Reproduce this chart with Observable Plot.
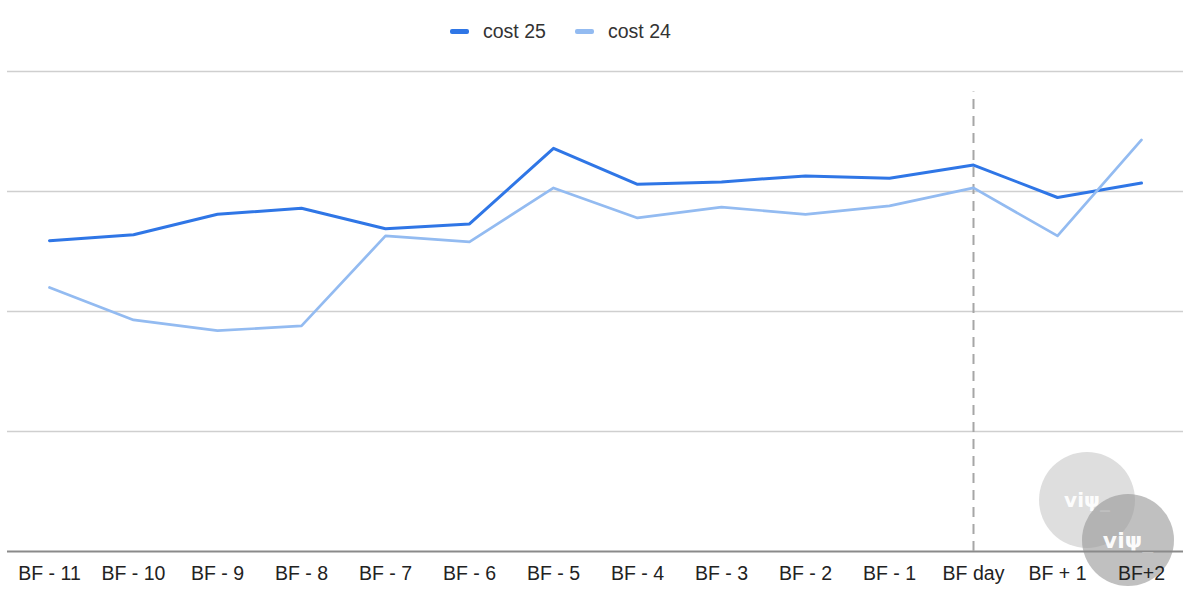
<!DOCTYPE html>
<html>
<head>
<meta charset="utf-8">
<script src="https://cdn.jsdelivr.net/npm/d3@7"></script>
<script src="https://cdn.jsdelivr.net/npm/@observablehq/plot@0.6"></script>
<style>
  html, body { margin: 0; padding: 0; background: #fff; }
  body { width: 1200px; height: 612px; position: relative; overflow: hidden; font-family: "Liberation Sans", Arial, sans-serif; }
  #legend { height: 60px; position: relative; }
  #chart { position: relative; z-index: 2; }
  .lg { position: absolute; top: 20px; display: flex; align-items: center; font-size: 19.5px; color: #333; }
  .sw { width: 19px; height: 5px; border-radius: 2px; margin-right: 14px; }
  .wm { position: absolute; z-index: 1; border-radius: 50%; display: flex; align-items: center; justify-content: center; color: rgba(255,255,255,0.95); font-weight: bold; font-family: "DejaVu Sans", sans-serif; }
</style>
</head>
<body>
<div id="legend"></div>
<div id="chart"></div>
<script>
const categories = ["BF - 11","BF - 10","BF - 9","BF - 8","BF - 7","BF - 6","BF - 5","BF - 4","BF - 3","BF - 2","BF - 1","BF day","BF + 1","BF+2"];
const cost25 = [2.59, 2.64, 2.81, 2.86, 2.69, 2.73, 3.36, 3.06, 3.08, 3.13, 3.11, 3.22, 2.95, 3.07];
const cost24 = [2.20, 1.93, 1.84, 1.88, 2.63, 2.58, 3.03, 2.78, 2.87, 2.81, 2.88, 3.03, 2.63, 3.43];
const seriesNames = ["cost 25", "cost 24"];
const seriesColors = ["#2f76e6", "#93bbf1"];
const gridValues = [1, 2, 3, 4];
const markerCategory = "BF day";
const markerTop = 3.83;

const rows = [];
categories.forEach((c, i) => {
  rows.push({cat: c, series: seriesNames[0], value: cost25[i]});
  rows.push({cat: c, series: seriesNames[1], value: cost24[i]});
});

// legend
const legend = document.getElementById("legend");
const legendX = [450, 575];
seriesNames.forEach((s, i) => {
  const d = document.createElement("div");
  d.className = "lg";
  d.style.left = legendX[i] + "px";
  d.innerHTML = `<div class="sw" style="background:${seriesColors[i]}"></div><span>${s}</span>`;
  legend.appendChild(d);
});

const chart = Plot.plot({
  width: 1200,
  height: 552,
  marginTop: 11,
  marginBottom: 61,
  marginLeft: 7,
  marginRight: 17,
  style: {fontFamily: "'Liberation Sans', Arial, sans-serif", fontSize: "19.5px", color: "#222", background: "transparent"},
  x: {type: "point", domain: categories, padding: 0.5, label: null},
  y: {domain: [0, 4], axis: null},
  color: {domain: seriesNames, range: seriesColors},
  marks: [
    Plot.gridY(gridValues, {stroke: "#cfcfcf", strokeOpacity: 1, strokeWidth: 1.5}),
    Plot.ruleY([0], {stroke: "#8a8a8a", strokeWidth: 2}),
    Plot.ruleX([markerCategory], {y1: 0, y2: markerTop, stroke: "#a6a6a6", strokeWidth: 2, strokeDasharray: "10,7"}),
    Plot.line(rows.filter(d => d.series === seriesNames[0]), {x: "cat", y: "value", stroke: seriesColors[0], strokeWidth: 3}),
    Plot.line(rows.filter(d => d.series === seriesNames[1]), {x: "cat", y: "value", stroke: seriesColors[1], strokeWidth: 2.7}),
    Plot.axisX({tickSize: 0, tickPadding: 15, fill: "#222", fontSize: 19.5, label: null})
  ]
});
document.getElementById("chart").appendChild(chart);

// watermark
const wm = [
  {cx: 1087, cy: 500, r: 48, bg: "rgba(205,205,205,0.65)", fs: 20},
  {cx: 1128, cy: 540, r: 46, bg: "rgba(150,150,150,0.6)", fs: 22}
];
wm.forEach(w => {
  const d = document.createElement("div");
  d.className = "wm";
  d.style.left = (w.cx - w.r) + "px";
  d.style.top = (w.cy - w.r) + "px";
  d.style.width = d.style.height = (2 * w.r) + "px";
  d.style.background = w.bg;
  d.style.fontSize = w.fs + "px";
  d.textContent = "viψ_";
  document.body.appendChild(d);
});
</script>
</body>
</html>
